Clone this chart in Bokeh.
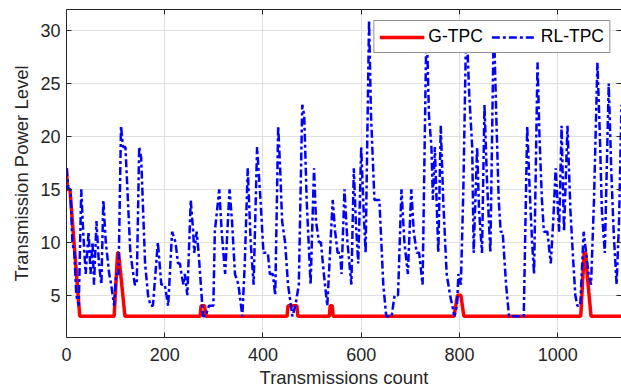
from bokeh.plotting import figure
from bokeh.models import (Range1d, LinearAxis, FixedTicker, CustomJSTickFormatter,
                          Legend, LegendItem)
from bokeh.embed import file_html
from bokeh.resources import INLINE

# ---- data ----
x_ticks = [0, 200, 400, 600, 800, 1000]
y_ticks = [5, 10, 15, 20, 25, 30]

g_tpc_x = [0, 2, 7, 27, 97, 104, 106, 119, 272, 274, 281, 284, 449, 451, 469, 471,
           535, 537, 541, 543, 789, 796, 803, 809, 1047, 1054, 1057, 1060, 1068, 1130]
g_tpc_y = [17, 15, 15, 3, 3, 9, 9, 3, 3, 4, 4, 3, 3, 4, 4, 3,
           3, 4, 4, 3, 3, 5, 5, 3, 3, 9, 9, 7, 3, 3]

rl_tpc_x = [0, 4, 8, 12, 16, 20, 25, 30, 34, 39, 45, 49, 53, 56, 61, 66, 71, 75, 80, 87,
            91, 97, 101, 106, 111, 115, 120, 130, 139, 143, 148, 152, 160, 166, 171, 176,
            186, 193, 200, 207, 215, 222, 227, 231, 234, 238, 241, 246, 253, 258, 260, 265,
            269, 278, 283, 290, 299, 302, 311, 316, 323, 332, 337, 343, 350, 358, 363, 369,
            375, 381, 388, 395, 401, 410, 414, 420, 425, 431, 435, 439, 445, 451, 460, 466,
            473, 480, 484, 489, 497, 504, 508, 514, 518, 524, 531, 542, 547, 552, 557, 560,
            566, 572, 580, 585, 589, 594, 600, 605, 609, 616, 620, 627, 637, 645, 651, 662,
            668, 675, 682, 688, 695, 702, 707, 713, 718, 725, 733, 738, 743, 746, 750, 757,
            762, 767, 774, 781, 790, 795, 798, 803, 808, 814, 820, 826, 829, 836, 840, 846,
            851, 856, 863, 870, 875, 880, 884, 888, 895, 901, 931, 938, 943, 948, 952, 959,
            963, 968, 972, 979, 986, 991, 996, 1003, 1008, 1013, 1020, 1026, 1032, 1036, 1040,
            1046, 1053, 1058, 1063, 1068, 1074, 1081, 1086, 1090, 1096, 1104, 1109, 1114,
            1120, 1125, 1130]
rl_tpc_y = [17, 15, 15, 10, 9, 5, 4, 15, 11, 7, 11, 7, 10, 6, 12, 8, 6, 14, 10, 7,
            6, 4, 7, 7, 21, 19, 19, 9, 6, 6, 19, 18, 8, 5, 4, 4,
            10, 6, 6, 4, 11, 10, 8, 8, 7, 6, 7, 5, 14, 11, 9, 11,
            9, 3, 3, 4, 4, 11, 15, 11, 7, 15, 12, 7, 6, 3, 8, 17,
            10, 6, 19, 14, 9, 9, 7, 7, 5, 21, 17, 12, 10, 6, 3, 4,
            6, 23, 22, 14, 6, 17, 12, 10, 10, 7, 4, 14, 11, 9, 9, 7,
            15, 10, 6, 17, 12, 8, 19, 13, 9, 31, 22, 14, 14, 6, 3, 3,
            5, 5, 15, 10, 7, 15, 11, 9, 9, 6, 31, 22, 19, 14, 19, 9,
            21, 14, 7, 5, 3, 4, 7, 6, 15, 31, 24, 19, 9, 19, 13, 9,
            23, 16, 9, 31, 22, 14, 11, 11, 6, 3, 3, 21, 15, 10, 7, 27,
            20, 14, 11, 11, 8, 12, 17, 11, 21, 11, 21, 13, 8, 5, 4,
            4, 11, 9, 7, 6, 14, 27, 20, 13, 9, 25, 17, 11,
            6, 12, 23]

FONT = "Liberation Sans"
TXT = "#262626"
AX = "#262626"

p = figure(width=621, height=390, output_backend="svg", toolbar_location=None,
           x_range=Range1d(0, 1130), y_range=Range1d(1, 32),
           min_border_left=66, min_border_right=0, min_border_top=9, min_border_bottom=0)
p.outline_line_color = None
p.background_fill_color = "white"
p.border_fill_color = "white"

for ax in (p.xaxis[0], p.yaxis[0]):
    ax.major_tick_in = 5
    ax.major_tick_out = 0
    ax.minor_tick_line_color = None
    ax.axis_line_color = AX
    ax.major_tick_line_color = AX
    ax.major_label_text_font = FONT
    ax.major_label_text_font_size = "18px"
    ax.major_label_text_color = TXT
    ax.axis_label_text_font = FONT
    ax.axis_label_text_font_size = "18.5px"
    ax.axis_label_text_font_style = "normal"
    ax.axis_label_text_color = TXT

p.xaxis[0].ticker = FixedTicker(ticks=x_ticks)
p.yaxis[0].ticker = FixedTicker(ticks=y_ticks)
p.xaxis[0].axis_label = "Transmissions count"
p.yaxis[0].axis_label = "Transmission Power Level"
p.xaxis[0].major_label_standoff = 10
p.xaxis[0].axis_label_standoff = 3
p.yaxis[0].major_label_standoff = 6
p.yaxis[0].axis_label_standoff = 5

blank = CustomJSTickFormatter(code="return ''")
top = LinearAxis(ticker=FixedTicker(ticks=x_ticks), formatter=blank,
                 major_tick_in=5, major_tick_out=0, minor_tick_line_color=None,
                 axis_line_color=AX, major_tick_line_color=AX,
                 major_label_standoff=0, major_label_text_font_size="1px")
right = LinearAxis(ticker=FixedTicker(ticks=y_ticks), formatter=blank,
                   major_tick_in=5, major_tick_out=0, minor_tick_line_color=None,
                   axis_line_color=AX, major_tick_line_color=AX,
                   major_label_standoff=0, major_label_text_font_size="1px")
p.add_layout(top, "above")
p.add_layout(right, "right")

p.xgrid.ticker = FixedTicker(ticks=x_ticks)
p.ygrid.ticker = FixedTicker(ticks=y_ticks)
p.xgrid.grid_line_color = "#dfdfdf"
p.ygrid.grid_line_color = "#dfdfdf"

r_g = p.line(g_tpc_x, g_tpc_y, line_color="#ff0000", line_width=3.5)
r_rl = p.line(rl_tpc_x, rl_tpc_y, line_color="#0000ff", line_width=2.5,
              line_dash="8 3 3 3")

legend = Legend(items=[LegendItem(label="G-TPC", renderers=[r_g]),
                       LegendItem(label="RL-TPC", renderers=[r_rl])],
                location="top_right", orientation="horizontal")
legend.label_text_font = FONT
legend.label_text_font_size = "17.5px"
legend.label_text_color = "black"
legend.border_line_color = AX
legend.border_line_width = 1
legend.background_fill_color = "white"
legend.background_fill_alpha = 1
legend.padding = 5
legend.margin = 11
legend.spacing = 9
legend.label_standoff = 4
legend.glyph_width = 45
legend.glyph_height = 18
legend.label_height = 18
p.add_layout(legend)

open("out.html", "w").write(file_html(p, INLINE))
